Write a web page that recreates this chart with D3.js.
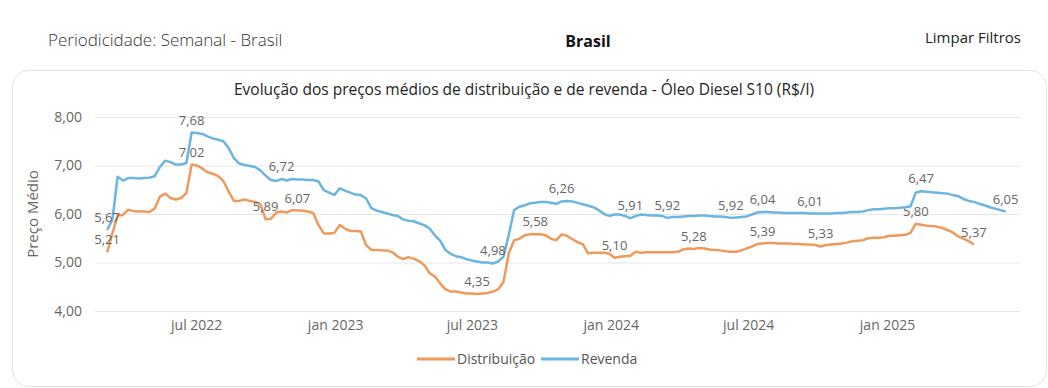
<!DOCTYPE html>
<html>
<head>
<meta charset="utf-8">
<script src="https://cdn.jsdelivr.net/npm/d3@7"></script>
<style>
  body { margin: 0; background: #fff; }
  svg { display: block; font-family: "Open Sans", "Noto Sans", sans-serif; }
</style>
</head>
<body>
<div id="chart"></div>
<script>
"use strict";

// weekly series (first week ends 2022-03-05)
var firstWeek = new Date(2022, 2, 5);

var revenda = [
    5.67, 5.88, 6.77, 6.69, 6.74, 6.74, 6.73, 6.74, 6.75, 6.78,
    6.97, 7.10, 7.07, 7.02, 7.02, 7.05, 7.68, 7.67, 7.65, 7.60,
    7.56, 7.53, 7.50, 7.36, 7.15, 7.04, 7.01, 6.99, 6.97, 6.90,
    6.79, 6.70, 6.68, 6.72, 6.69, 6.72, 6.71, 6.71, 6.70, 6.70,
    6.67, 6.49, 6.44, 6.39, 6.53, 6.48, 6.44, 6.40, 6.39, 6.32,
    6.12, 6.07, 6.04, 6.01, 5.98, 5.96, 5.89, 5.86, 5.85, 5.81,
    5.77, 5.70, 5.56, 5.45, 5.26, 5.18, 5.13, 5.11, 5.07, 5.04,
    5.02, 5.00, 5.00, 4.98, 5.02, 5.12, 5.57, 6.08, 6.15, 6.18,
    6.22, 6.23, 6.25, 6.25, 6.23, 6.21, 6.26, 6.27, 6.26, 6.23,
    6.20, 6.17, 6.14, 6.08, 6.00, 5.96, 5.99, 5.99, 5.96, 5.91,
    5.96, 5.99, 5.98, 5.97, 5.97, 5.96, 5.92, 5.94, 5.94, 5.95,
    5.96, 5.96, 5.97, 5.97, 5.96, 5.95, 5.95, 5.94, 5.92, 5.93,
    5.94, 5.95, 5.99, 6.03, 6.04, 6.04, 6.03, 6.03, 6.02, 6.02,
    6.02, 6.02, 6.02, 6.01, 6.01, 6.01, 6.01, 6.01, 6.02, 6.02,
    6.03, 6.04, 6.04, 6.05, 6.08, 6.10, 6.10, 6.11, 6.12, 6.12,
    6.13, 6.14, 6.16, 6.44, 6.47, 6.46, 6.45, 6.44, 6.43, 6.42,
    6.39, 6.37, 6.31, 6.27, 6.25, 6.21, 6.18, 6.14, 6.11, 6.08,
    6.05
];

var distribuicao = [
    5.21, 5.60, 5.97, 5.98, 6.09, 6.06, 6.05, 6.05, 6.04, 6.11,
    6.36, 6.42, 6.33, 6.30, 6.33, 6.43, 7.02, 7.00, 6.94, 6.86,
    6.83, 6.78, 6.68, 6.46, 6.27, 6.27, 6.30, 6.27, 6.25, 6.20,
    5.89, 5.90, 6.03, 6.05, 6.03, 6.08, 6.07, 6.07, 6.05, 6.02,
    5.77, 5.60, 5.60, 5.61, 5.77, 5.70, 5.65, 5.65, 5.64, 5.36,
    5.26, 5.26, 5.25, 5.25, 5.21, 5.12, 5.07, 5.11, 5.08, 5.03,
    4.95, 4.78, 4.71, 4.57, 4.45, 4.40, 4.40, 4.38, 4.36, 4.36,
    4.35, 4.36, 4.37, 4.40, 4.45, 4.60, 5.19, 5.46, 5.49, 5.56,
    5.58, 5.58, 5.58, 5.56, 5.49, 5.46, 5.58, 5.55, 5.48, 5.42,
    5.38, 5.19, 5.20, 5.20, 5.20, 5.18, 5.10, 5.12, 5.13, 5.14,
    5.22, 5.20, 5.21, 5.21, 5.21, 5.21, 5.21, 5.21, 5.22, 5.27,
    5.29, 5.28, 5.30, 5.29, 5.27, 5.26, 5.25, 5.23, 5.22, 5.22,
    5.25, 5.29, 5.33, 5.38, 5.39, 5.40, 5.40, 5.39, 5.39, 5.39,
    5.38, 5.38, 5.37, 5.37, 5.36, 5.33, 5.36, 5.37, 5.38, 5.39,
    5.41, 5.44, 5.45, 5.46, 5.50, 5.51, 5.51, 5.52, 5.55, 5.55,
    5.56, 5.57, 5.61, 5.80, 5.78, 5.76, 5.75, 5.74, 5.71, 5.67,
    5.62, 5.54, 5.49, 5.44, 5.37
];

// weeks that carry a data label
var revendaLabels = [0, 16, 33, 73, 86, 99, 106, 118, 124, 133, 154, 170];
var distribuicaoLabels = [0, 16, 30, 36, 70, 81, 96, 111, 124, 135, 153, 164];

var xTicks = ["2022-07-01", "2023-01-01", "2023-07-01", "2024-01-01", "2024-07-01", "2025-01-01"];
var xTickLabels = ["jul 2022", "jan 2023", "jul 2023", "jan 2024", "jul 2024", "jan 2025"];
var yTicks = [4, 5, 6, 7, 8];

var colors = { dist: "#EF9A5A", rev: "#6BB5E1" };

var W = 1048, H = 388;
var plot = { left: 95, right: 1020, top: 117, bottom: 311 };

var ptBR = d3.formatLocale({ decimal: ",", thousands: ".", grouping: [3], currency: ["R$", ""] });
var fmt = ptBR.format(".2f");

var svg = d3.select("#chart").append("svg")
    .attr("width", W)
    .attr("height", H);

// header
svg.append("text").attr("x", 48).attr("y", 46)
    .style("font-size", "17px").style("font-weight", 300).attr("fill", "#333")
    .text("Periodicidade: Semanal - Brasil");
svg.append("text").attr("x", 588).attr("y", 47).attr("text-anchor", "middle")
    .style("font-size", "16px").style("font-weight", 700).attr("fill", "#111")
    .text("Brasil");
svg.append("text").attr("x", 1021).attr("y", 43).attr("text-anchor", "end")
    .style("font-size", "15px").attr("fill", "#222")
    .text("Limpar Filtros");

// card
svg.append("rect")
    .attr("x", 12.5).attr("y", 70.5)
    .attr("width", 1034).attr("height", 316)
    .attr("rx", 16)
    .attr("fill", "#fff")
    .attr("stroke", "#e3e3e3");

svg.append("text").attr("x", 524).attr("y", 95).attr("text-anchor", "middle")
    .style("font-size", "15.5px").attr("fill", "#252423")
    .text("Evolução dos preços médios de distribuição e de revenda - Óleo Diesel S10 (R$/l)");

var x = d3.scaleTime()
    .domain([new Date(2022, 1, 17), new Date(2025, 5, 26)])
    .range([plot.left, plot.right]);
var y = d3.scaleLinear()
    .domain([4, 8])
    .range([plot.bottom, plot.top]);

var weeks = revenda.map(function(v, i) { return d3.timeDay.offset(firstWeek, 7 * i); });

// y axis with gridlines
var yAxis = svg.append("g")
    .attr("transform", "translate(" + plot.left + ",0)")
    .call(d3.axisLeft(y).tickValues(yTicks).tickFormat(fmt)
        .tickSize(-(plot.right - plot.left)).tickPadding(13));
yAxis.select(".domain").remove();
yAxis.selectAll(".tick line").attr("stroke", "#e6e6e6");
yAxis.selectAll(".tick text")
    .attr("fill", "#666").style("font-size", "14px")
    .style("font-family", "'Open Sans', sans-serif");

svg.append("text")
    .attr("transform", "translate(38,214) rotate(-90)")
    .attr("text-anchor", "middle")
    .style("font-size", "15px").attr("fill", "#666")
    .text("Preço Médio");

// x axis
var xAxis = svg.append("g")
    .attr("transform", "translate(0," + plot.bottom + ")")
    .call(d3.axisBottom(x)
        .tickValues(xTicks.map(function(d) { return d3.isoParse(d + "T00:00:00"); }))
        .tickFormat(function(d, i) { return xTickLabels[i]; })
        .tickSize(0).tickPadding(9));
xAxis.select(".domain").remove();
xAxis.selectAll(".tick text")
    .attr("fill", "#666").style("font-size", "14px")
    .style("font-family", "'Open Sans', sans-serif");

// lines
var line = d3.line()
    .x(function(d) { return x(d.date); })
    .y(function(d) { return y(d.value); });

var series = [
    { name: "dist", values: distribuicao, labels: distribuicaoLabels },
    { name: "rev", values: revenda, labels: revendaLabels }
];

series.forEach(function(s) {
    var pts = s.values.map(function(v, i) { return { date: weeks[i], value: v }; });
    svg.append("path")
        .datum(pts)
        .attr("fill", "none")
        .attr("stroke", colors[s.name])
        .attr("stroke-width", 2.5)
        .attr("stroke-linejoin", "round")
        .attr("d", line);

    svg.append("g").selectAll("text")
        .data(s.labels)
        .enter()
        .append("text")
        .attr("x", function(i) { return x(weeks[i]); })
        .attr("y", function(i) { return y(s.values[i]) - 8; })
        .attr("text-anchor", "middle")
        .style("font-size", "13px")
        .attr("fill", "#666")
        .text(function(i) { return fmt(s.values[i]); });
});

// legend
var legend = [
    { label: "Distribuição", color: colors.dist, x: 417 },
    { label: "Revenda", color: colors.rev, x: 541 }
];
var lg = svg.append("g").selectAll("g")
    .data(legend)
    .enter()
    .append("g")
    .attr("transform", function(d) { return "translate(" + d.x + ",359)"; });
lg.append("line").attr("x1", 0).attr("x2", 38)
    .attr("stroke", function(d) { return d.color; })
    .attr("stroke-width", 3);
lg.append("text").attr("x", 40).attr("y", 5)
    .style("font-size", "14px").attr("fill", "#555")
    .text(function(d) { return d.label; });
</script>
</body>
</html>
